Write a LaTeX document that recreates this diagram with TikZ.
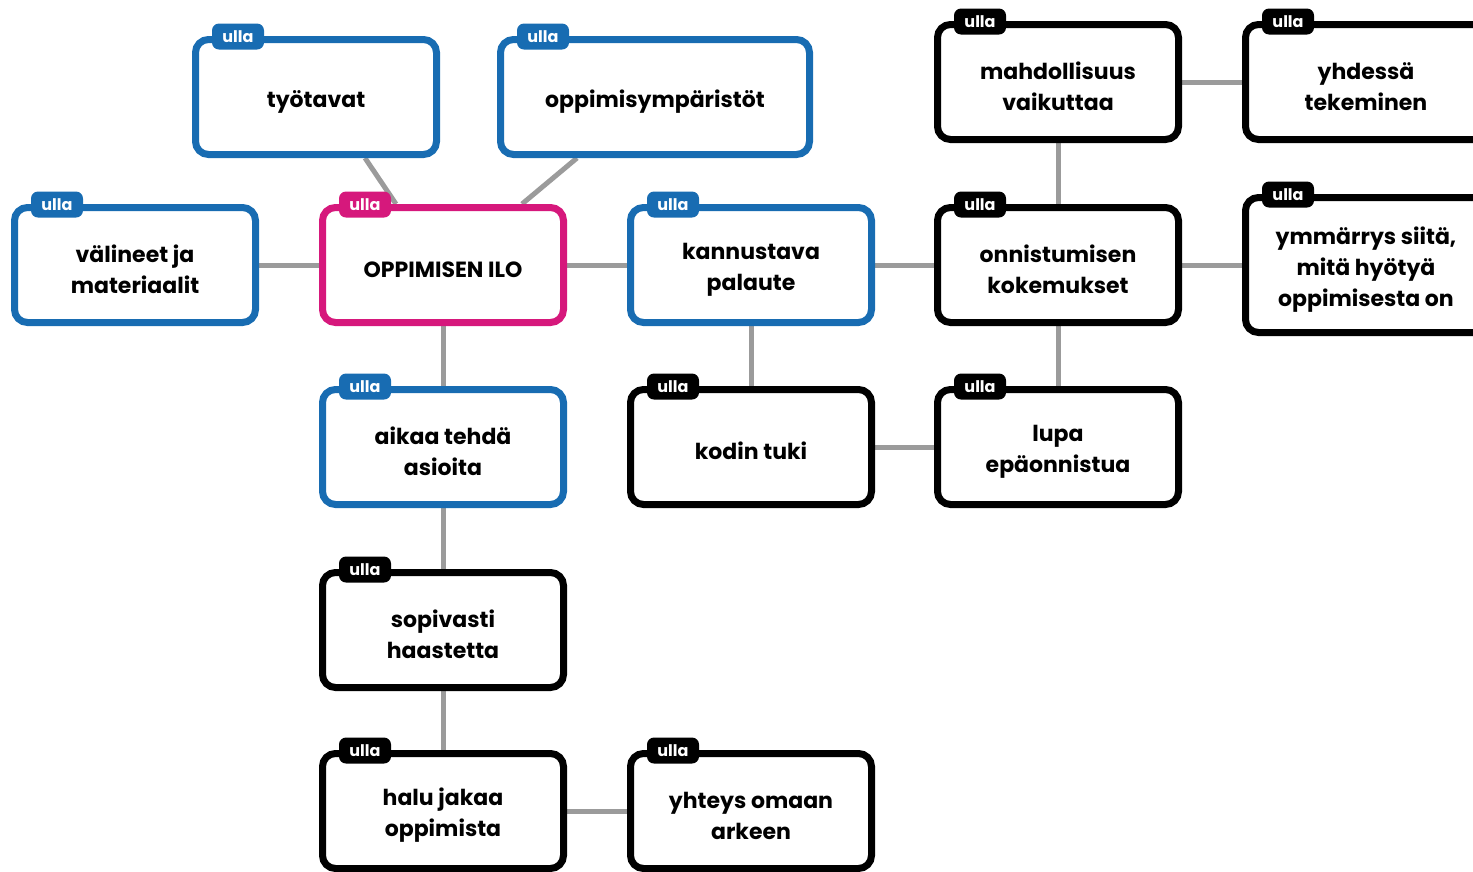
\documentclass[tikz,border=0pt]{standalone}
\usepackage{fontspec}
\setmainfont{Poppins}
\usetikzlibrary{calc}
\pgfdeclarelayer{bg}
\pgfsetlayers{bg,main}
\definecolor{ublue}{RGB}{24,108,178}
\definecolor{umag}{RGB}{214,24,124}
\definecolor{ugray}{RGB}{155,155,155}
\newcommand{\tup}{\rule{0pt}{26pt}}
\tikzset{
 box/.style={draw=#1, line width=7pt, rounded corners=13pt, fill=white,
   minimum width=241pt, minimum height=115pt, align=center,
   font=\fontsize{22}{31}\selectfont\bfseries, text=black, inner sep=0pt},
 tab/.style={fill=#1, rounded corners=7pt, minimum width=52pt, minimum height=26pt,
   inner sep=0pt, text=white, font=\fontsize{16}{16}\selectfont\bfseries},
 link/.style={draw=ugray, line width=5pt}
}
\newcommand{\ullatab}[3]{\node[tab=#2] (#3) at ($(#1.north west)+(46,0.5)$) {ulla};}
\begin{document}
\begin{tikzpicture}[x=1pt,y=-1pt]
\useasboundingbox (0,0) rectangle (1473,871);
% boxes
\node[box=ublue] (ty) at (316,97) {\tup työtavat};
\node[box=ublue, minimum width=309pt] (op) at (655,97) {\tup oppimisympäristöt};
\node[box=ublue] (va) at (135,265) {\tup välineet ja\\materiaalit};
\node[box=umag] (ilo) at (443,265) {\tup OPPIMISEN ILO};
\node[box=ublue] (ka) at (751,265) {\tup kannustava\\palaute};
\node[box=black] (on) at (1058,265) {\tup onnistumisen\\kokemukset};
\node[box=black] (ma) at (1058,82) {\tup mahdollisuus\\vaikuttaa};
\node[box=black] (yh) at (1366,82) {\tup yhdessä\\tekeminen};
\node[box=black, minimum height=135pt] (ym) at (1366,265) {\tup ymmärrys siitä,\\mitä hyötyä\\oppimisesta on};
\node[box=ublue] (ai) at (443,447) {\tup aikaa tehdä\\asioita};
\node[box=black] (ko) at (751,447) {\tup kodin tuki};
\node[box=black] (lu) at (1058,447) {\tup lupa\\epäonnistua};
\node[box=black] (so) at (443,630) {\tup sopivasti\\haastetta};
\node[box=black] (ha) at (443,811) {\tup halu jakaa\\oppimista};
\node[box=black] (yo) at (751,811) {\tup yhteys omaan\\arkeen};
% tabs
\ullatab{ty}{ublue}{tty}
\ullatab{op}{ublue}{top}
\ullatab{va}{ublue}{tva}
\ullatab{ilo}{umag}{tilo}
\ullatab{ka}{ublue}{tka}
\ullatab{on}{black}{ton}
\ullatab{ma}{black}{tma}
\ullatab{yh}{black}{tyh}
\ullatab{ym}{black}{tym}
\ullatab{ai}{ublue}{tai}
\ullatab{ko}{black}{tko}
\ullatab{lu}{black}{tlu}
\ullatab{so}{black}{tso}
\ullatab{ha}{black}{tha}
\ullatab{yo}{black}{tyo}
% links
\begin{pgfonlayer}{bg}
\draw[link] ($(ty.south)+(49,0)$) -- ($(ilo.north)+(-47,0)$);
\draw[link] ($(op.south)+(-78,0)$) -- ($(ilo.north)+(79,0)$);
\draw[link] (va) -- (ilo);
\draw[link] (ilo) -- (ka);
\draw[link] (ka) -- (on);
\draw[link] (on) -- (ym);
\draw[link] (on) -- (ma);
\draw[link] (ma) -- (yh);
\draw[link] (on) -- (lu);
\draw[link] (ka) -- (ko);
\draw[link] (ko) -- (lu);
\draw[link] (ilo) -- (ai);
\draw[link] (ai) -- (so);
\draw[link] (so) -- (ha);
\draw[link] (ha) -- (yo);
\end{pgfonlayer}
\end{tikzpicture}
\end{document}
